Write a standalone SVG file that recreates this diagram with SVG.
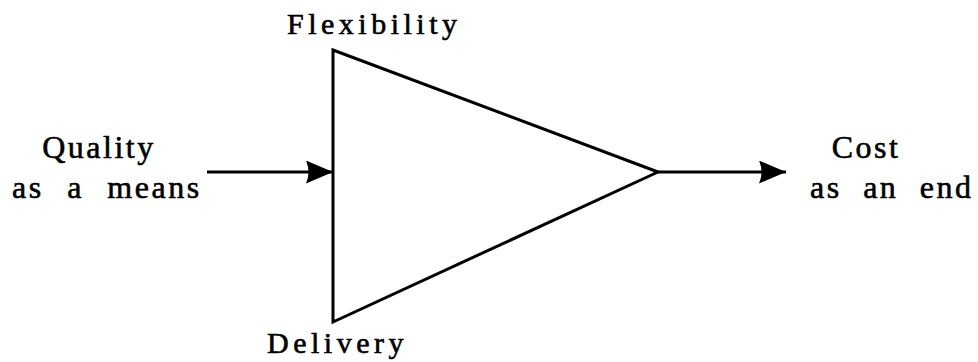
<svg xmlns="http://www.w3.org/2000/svg" width="978" height="362" viewBox="0 0 978 362">
<style>
text{font-family:"Liberation Serif","Times New Roman",serif;font-size:32px;fill:#000;stroke:#000;stroke-width:0.6px;letter-spacing:2.5px}
.lbl{font-size:30px;letter-spacing:4.5px}
.ln{stroke:#000;stroke-width:3;fill:none}
</style>
<defs>
<marker id="ah" viewBox="0 0 27 23" refX="27" refY="11.5" markerWidth="27" markerHeight="23" markerUnits="userSpaceOnUse" orient="auto">
<path d="M0,0 L27,11.5 L0,23 Q5,11.5 0,0 Z" fill="#000"/>
</marker>
</defs>
<g id="connectors">
<line class="ln" x1="207" y1="172" x2="333" y2="172" marker-end="url(#ah)"/>
<line class="ln" x1="658" y1="172" x2="786" y2="172" marker-end="url(#ah)"/>
</g>
<g id="triangle">
<polygon class="ln" points="333,50 333,322 658,172" stroke-linejoin="miter"/>
</g>
<g id="flexibility"><text class="lbl" x="287" y="34">Flexibility</text></g>
<g id="delivery"><text class="lbl" x="267" y="353">Delivery</text></g>
<g id="quality"><text x="99" y="158" text-anchor="middle">Quality</text><text x="12" y="198" style="word-spacing:13px">as a means</text></g>
<g id="cost"><text x="866" y="158" text-anchor="middle">Cost</text><text x="810" y="198" style="word-spacing:11px">as an end</text></g>
</svg>
